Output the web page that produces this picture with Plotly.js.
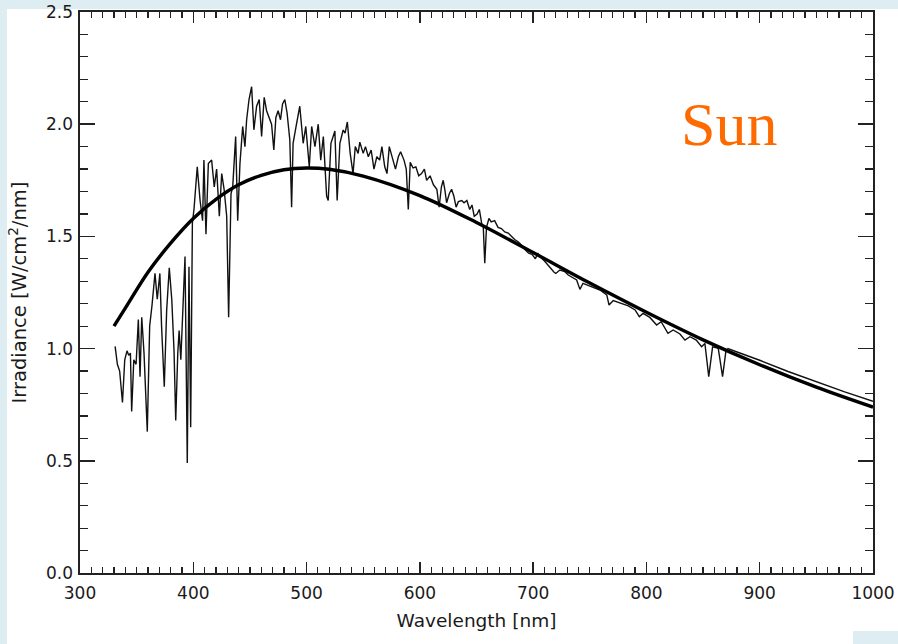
<!DOCTYPE html>
<html><head><meta charset="utf-8">
<script src="https://cdn.plot.ly/plotly-3.0.1.min.js"></script>
<style>html,body{margin:0;padding:0;background:#fff}#chart{width:898px;height:644px}</style>
</head><body><div id="chart"></div>
<script>
// Measured solar spectrum (thin line)
const specWl = [331.0,333.0,335.0,337.5,339.5,341.5,343.0,344.5,345.6,347.5,349.5,351.5,353.0,354.5,356.5,359.4,361.5,362.5,363.5,366.2,368.2,370.5,372.0,374.4,376.5,378.8,381.0,383.0,384.5,386.3,387.5,389.0,391.2,392.7,394.7,396.2,397.7,399.2,400.6,403.5,406.0,408.2,409.4,411.2,413.3,416.2,418.5,420.6,423.0,425.1,427.2,429.5,431.2,433.3,434.8,437.4,439.2,441.2,443.6,445.6,447.1,449.2,451.5,453.5,455.9,458.2,460.3,462.6,464.7,466.7,469.1,471.1,472.9,474.9,477.0,478.8,480.8,482.8,485.2,486.8,488.1,491.1,494.0,497.0,499.3,502.4,504.5,507.4,510.3,512.5,514.8,517.7,519.1,521.5,523.5,525.0,527.0,529.4,532.3,534.0,536.0,538.5,541.0,543.0,545.5,547.0,550.0,552.0,554.5,557.0,559.5,562.0,564.5,566.5,569.0,571.0,573.0,575.5,578.5,581.0,583.0,586.0,588.0,589.8,591.5,594.0,596.5,599.0,601.5,604.0,606.0,609.0,612.0,615.0,617.0,619.0,620.6,622.0,623.6,626.0,628.0,630.0,632.0,634.0,637.0,639.0,641.5,644.0,646.0,648.0,650.5,652.5,654.5,656.0,657.3,658.8,661.0,663.0,666.0,669.0,672.0,675.0,678.0,681.0,684.0,687.0,690.0,693.0,696.0,699.0,702.0,704.0,706.0,710.0,714.0,718.5,720.0,723.6,728.0,731.0,738.4,741.3,744.0,750.0,759.0,765.0,767.0,770.7,776.6,784.0,790.0,793.7,797.0,803.0,809.0,813.0,819.0,823.6,829.6,834.0,838.4,844.0,848.7,851.6,855.0,858.4,863.4,867.2,870.2,872.0,880.0,900.0,925.0,950.0,975.0,1000.0];
const specIrr = [1.01,0.93,0.90,0.76,0.95,0.99,0.97,0.98,0.72,0.95,0.93,1.13,0.875,1.14,0.98,0.63,1.10,1.16,1.19,1.335,1.22,1.335,1.10,0.83,1.17,1.36,1.22,0.99,0.68,0.98,1.08,0.95,1.22,1.41,0.49,1.365,0.65,1.56,1.62,1.81,1.66,1.57,1.84,1.51,1.825,1.84,1.72,1.80,1.59,1.78,1.71,1.59,1.14,1.69,1.72,1.945,1.57,1.825,1.99,1.90,2.02,2.11,2.167,1.975,2.08,2.11,1.945,2.12,2.06,2.03,2.00,1.885,2.03,2.06,2.02,2.09,2.11,2.05,1.93,1.63,1.915,2.00,2.08,1.915,1.99,1.81,1.99,1.90,2.00,1.84,1.945,1.68,1.66,1.915,1.945,1.97,1.66,1.915,1.974,1.96,2.01,1.87,1.78,1.90,1.87,1.92,1.87,1.90,1.855,1.885,1.80,1.855,1.84,1.90,1.81,1.78,1.90,1.855,1.80,1.855,1.877,1.84,1.80,1.62,1.83,1.805,1.81,1.77,1.78,1.80,1.75,1.77,1.73,1.71,1.63,1.72,1.75,1.71,1.65,1.69,1.71,1.68,1.63,1.655,1.66,1.65,1.66,1.62,1.64,1.59,1.60,1.62,1.56,1.54,1.38,1.54,1.58,1.565,1.57,1.54,1.535,1.52,1.515,1.50,1.485,1.475,1.46,1.44,1.425,1.42,1.40,1.425,1.41,1.39,1.365,1.34,1.335,1.35,1.343,1.328,1.306,1.264,1.291,1.279,1.261,1.239,1.194,1.214,1.202,1.19,1.172,1.142,1.157,1.139,1.105,1.12,1.068,1.083,1.065,1.038,1.053,1.038,1.008,1.023,0.875,1.008,1.001,0.875,0.99,1.0,0.985,0.948,0.898,0.852,0.807,0.765];
// Blackbody curve (thick line)
const bbWl = [330,340,360,380,400,420,440,460,480,500,520,550,600,650,700,750,800,850,900,950,1000];
const bbIrr = [1.10,1.18,1.34,1.47,1.58,1.665,1.73,1.772,1.797,1.805,1.799,1.769,1.682,1.562,1.428,1.292,1.162,1.039,0.928,0.828,0.739];
const xTicks = [300,400,500,600,700,800,900,1000];
const yTicks = [0.0,0.5,1.0,1.5,2.0,2.5];

const tickFont = {family: 'DejaVu Sans, sans-serif', size: 17, color: '#1a1a1a'};
const L = 80, R = 25, T = 12, B = 71, W = 898, H = 644;
const pw = W - L - R, ph = H - T - B;
const px = v => (v - L) / pw;
const py = v => (H - B - v) / ph;
const band = '#deedf2';

const traces = [
  {x: specWl, y: specIrr, type: 'scatter', mode: 'lines',
   line: {color: '#111', width: 1.4}, hoverinfo: 'skip'},
  {x: bbWl, y: bbIrr, type: 'scatter', mode: 'lines',
   line: {color: '#000', width: 3.4, shape: 'spline', smoothing: 1}, hoverinfo: 'skip'}
];

const layout = {
  width: W, height: H,
  margin: {l: L, r: R, t: T, b: B, pad: 0},
  paper_bgcolor: '#ffffff', plot_bgcolor: '#ffffff',
  showlegend: false,
  xaxis: {
    range: [300, 1000], tickvals: xTicks, ticks: 'inside', ticklen: 11, tickwidth: 1.5,
    tickcolor: '#222', showline: true, linewidth: 1.6, linecolor: '#222', mirror: 'ticks',
    showgrid: false, zeroline: false, tickfont: tickFont, ticklabelstandoff: 4,
    minor: {dtick: 10, tick0: 300, ticks: 'inside', ticklen: 6, tickwidth: 1.2, tickcolor: '#222', showgrid: false},
    title: {text: 'Wavelength [nm]', font: {family: 'DejaVu Sans, sans-serif', size: 18.5, color: '#1a1a1a'}, standoff: 12}
  },
  yaxis: {
    range: [0, 2.5], tickvals: yTicks, tickformat: '.1f', ticks: 'inside', ticklen: 15, tickwidth: 1.5,
    tickcolor: '#222', showline: true, linewidth: 1.6, linecolor: '#222', mirror: 'ticks',
    showgrid: false, zeroline: false, tickfont: tickFont, ticklabelstandoff: 2,
    minor: {dtick: 0.1, tick0: 0, ticks: 'inside', ticklen: 8, tickwidth: 1.2, tickcolor: '#222', showgrid: false},
    title: {text: 'Irradiance [W/cm<sup>2</sup>/nm]', font: {family: 'DejaVu Sans, sans-serif', size: 19.5, color: '#1a1a1a'}, standoff: 14}
  },
  shapes: [
    {type: 'rect', xref: 'paper', yref: 'paper', x0: px(0), x1: px(W), y0: py(0), y1: py(9), fillcolor: band, line: {width: 0}, layer: 'below'},
    {type: 'rect', xref: 'paper', yref: 'paper', x0: px(0), x1: px(7), y0: py(0), y1: py(H), fillcolor: band, line: {width: 0}, layer: 'below'},
    {type: 'rect', xref: 'paper', yref: 'paper', x0: px(853), x1: px(W), y0: py(631), y1: py(H), fillcolor: band, line: {width: 0}, layer: 'below'}
  ],
  annotations: [
    {text: 'Sun', xref: 'paper', yref: 'paper', x: px(729), y: py(124), xanchor: 'center', yanchor: 'middle',
     showarrow: false, font: {family: 'Liberation Serif, Times New Roman, serif', size: 62, color: '#ff6a00'}}
  ]
};

Plotly.newPlot('chart', traces, layout, {displayModeBar: false, staticPlot: true});
</script>
</body></html>
